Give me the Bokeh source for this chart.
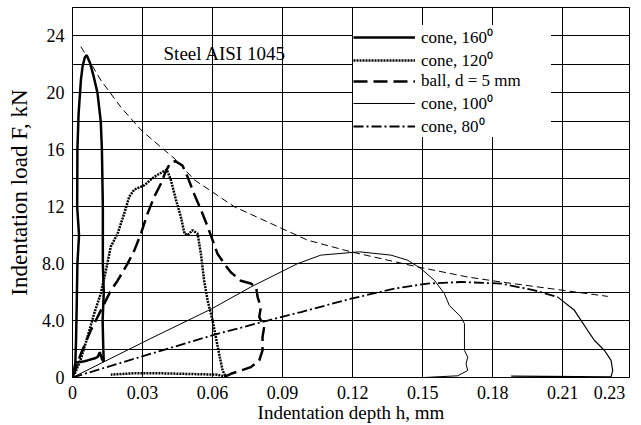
from bokeh.plotting import figure
from bokeh.models import (FixedTicker, NumeralTickFormatter, Legend, LegendItem,
                          Label, Range1d)
from bokeh.embed import file_html
from bokeh.resources import INLINE

# ---- data (indentation depth h in mm, load F in kN) ----
cone160_h = [0.0, 0.0012, 0.0015, 0.0018, 0.0021, 0.0028, 0.0020, 0.0021, 0.0026, 0.0036,
             0.0043, 0.0053, 0.0061, 0.0075, 0.0090, 0.0107, 0.0121, 0.0126, 0.0130, 0.0130,
             0.0134, 0.0129, 0.0132, 0.0134, 0.0126, 0.0117, 0.0108, 0.0096, 0.0064, 0.0040,
             0.0015]
cone160_F = [0.0, 1.0, 2.5, 5.0, 8.0, 10.0, 12.0, 16.0, 18.5, 20.9,
             21.85, 22.5, 22.65, 22.1, 21.2, 20.0, 18.0, 16.0, 12.0, 8.0,
             6.0, 4.0, 2.0, 1.1, 1.3, 1.78, 1.45, 1.35, 1.2, 1.1,
             1.05]

cone120_h = [0.0010, 0.0036, 0.0064, 0.0093, 0.0121, 0.0143, 0.0164, 0.0193, 0.0221, 0.0243,
             0.0264, 0.0307, 0.0350, 0.0386, 0.0404, 0.0421, 0.0443, 0.0464, 0.0480, 0.0493,
             0.0514, 0.0536, 0.0550, 0.0564, 0.0579, 0.0600, 0.0614, 0.0628, 0.0643, 0.0657,
             0.0620, 0.0493, 0.0364, 0.0264, 0.0164]
cone120_F = [0.26, 1.3, 2.84, 4.5, 5.9, 7.5, 9.2, 10.1, 11.5, 12.7,
             13.2, 13.5, 14.1, 14.45, 14.6, 13.9, 12.5, 11.3, 10.1, 10.0,
             10.35, 10.1, 8.7, 6.8, 5.4, 4.0, 2.84, 1.67, 0.49, 0.05,
             0.2, 0.25, 0.3, 0.3, 0.2]

ball_h = [0.0, 0.0036, 0.0078, 0.0121, 0.0150, 0.0164, 0.0193, 0.0236, 0.0264, 0.0293,
          0.0321, 0.0350, 0.0378, 0.0400, 0.0420, 0.0440, 0.0471, 0.0493, 0.0521, 0.0550,
          0.0579, 0.0600, 0.0621, 0.0650, 0.0678, 0.0721, 0.0764, 0.0786, 0.0793, 0.0807,
          0.0800, 0.0821, 0.0814, 0.0814, 0.0800, 0.0764, 0.0721, 0.0679, 0.0650]
ball_F = [0.0, 1.67, 3.3, 4.7, 5.65, 6.1, 6.8, 8.0, 8.9, 10.1,
          11.5, 12.7, 13.6, 14.5, 15.1, 15.2, 14.9, 14.1, 12.9, 11.8,
          10.6, 9.65, 8.7, 8.0, 7.4, 6.8, 6.6, 6.4, 5.65, 4.95,
          4.25, 3.54, 2.84, 1.9, 1.2, 0.73, 0.49, 0.26, 0.05]

cone100_h = [0.0, 0.0336, 0.0593, 0.0764, 0.0964, 0.1064, 0.1229, 0.1364, 0.1436, 0.1493,
             0.1550, 0.1593, 0.1614, 0.1664, 0.1679, 0.1679, 0.1679, 0.1693, 0.1686, 0.1693,
             0.1650, 0.1507]
cone100_F = [0.0, 2.75, 4.8, 6.36, 8.0, 8.6, 8.83, 8.6, 8.24, 7.65,
             6.83, 5.9, 5.07, 4.25, 3.78, 2.84, 1.9, 1.43, 0.96, 0.49,
             0.12, 0.0]

cone80_h = [0.0, 0.0336, 0.0621, 0.0836, 0.0979, 0.1193, 0.1379, 0.1521, 0.1664, 0.1836,
            0.1979, 0.2079, 0.2150, 0.2179, 0.2207, 0.2236, 0.2279, 0.2307, 0.2314, 0.2307,
            0.1879]
cone80_F = [0.0, 1.67, 3.07, 4.0, 4.6, 5.54, 6.24, 6.6, 6.71, 6.6,
            6.13, 5.65, 4.72, 4.0, 3.3, 2.6, 1.9, 1.2, 0.49, 0.05,
            0.1]

envelope_h = [0.0036, 0.0121, 0.0207, 0.0293, 0.0378, 0.0443, 0.0521, 0.0693, 0.0893, 0.1007,
              0.1193, 0.1479, 0.1693, 0.1836, 0.2050, 0.2293]
envelope_F = [23.25, 20.9, 19.0, 17.4, 16.2, 15.3, 13.9, 12.0, 10.5, 9.65,
              8.83, 7.77, 7.06, 6.71, 6.24, 5.7]

x_ticks = [0, 0.03, 0.06, 0.09, 0.12, 0.15, 0.18, 0.21, 0.23]
x_grid = [0.03, 0.06, 0.09, 0.12, 0.15, 0.18, 0.21]
y_ticks = [0, 4, 8, 12, 16, 20, 24]
y_labels = {0: "0", 4: "4.0", 8: "8.0", 12: "12", 16: "16", 20: "20", 24: "24"}
y_grid = [2, 4, 6, 8, 10, 12, 14, 16, 18, 20, 22, 24]

labels = ["cone, 160\u2070", "cone, 120\u2070", "ball, d = 5 mm",
          "cone, 100\u2070", "cone, 80\u2070"]
x_title = "Indentation depth h, mm"
y_title = "Indentation load F, kN"
note = "Steel AISI 1045"

FONT = "Liberation Serif"

p = figure(width=641, height=425, x_range=Range1d(0, 0.2386), y_range=Range1d(0, 26),
           output_backend="svg", toolbar_location=None,
           min_border_left=72, min_border_right=12, min_border_top=7, min_border_bottom=48)
p.background_fill_color = "white"
p.border_fill_color = "white"
p.outline_line_color = "black"
p.outline_line_width = 1

# grids
p.xgrid.ticker = FixedTicker(ticks=x_grid)
p.ygrid.ticker = FixedTicker(ticks=y_grid)
for g in (p.xgrid, p.ygrid):
    g.grid_line_color = "black"
    g.grid_line_width = 1

# axes
p.xaxis.ticker = FixedTicker(ticks=x_ticks)
p.xaxis.formatter = NumeralTickFormatter(format="0.[00]")
p.yaxis.ticker = FixedTicker(ticks=y_ticks)
p.yaxis.major_label_overrides = y_labels
p.xaxis.axis_label = x_title
p.yaxis.axis_label = y_title
for ax in (p.xaxis, p.yaxis):
    ax.axis_line_color = "black"
    ax.major_tick_out = 0
    ax.major_tick_in = 0
    ax.minor_tick_out = 0
    ax.minor_tick_in = 0
    ax.major_label_text_font = FONT
    ax.major_label_text_font_size = "18px"
    ax.major_label_text_color = "black"
    ax.axis_label_text_font = FONT
    ax.axis_label_text_font_style = "normal"
    ax.axis_label_text_color = "black"
p.xaxis.axis_label_text_font_size = "19px"
p.yaxis.axis_label_text_font_size = "23px"
p.xaxis.major_label_standoff = 8
p.xaxis.axis_label_standoff = 0
p.yaxis.major_label_standoff = 8
p.yaxis.axis_label_standoff = 7

# curves
r_env = p.line(envelope_h, envelope_F, line_color="black", line_width=1, line_dash="7 4")
r160 = p.line(cone160_h, cone160_F, line_color="black", line_width=2.5)
r120 = p.line(cone120_h, cone120_F, line_color="black", line_width=2.5, line_dash="2 1")
rball = p.line(ball_h, ball_F, line_color="black", line_width=2.5, line_dash="14 6")
r100 = p.line(cone100_h, cone100_F, line_color="black", line_width=1)
r80 = p.line(cone80_h[:12], cone80_F[:12], line_color="black", line_width=1.8,
             line_dash="10 3 2 3")
r80t = p.line(cone80_h[11:], cone80_F[11:], line_color="black", line_width=1.2)

legend = Legend(items=[LegendItem(label=labels[0], renderers=[r160]),
                       LegendItem(label=labels[1], renderers=[r120]),
                       LegendItem(label=labels[2], renderers=[rball]),
                       LegendItem(label=labels[3], renderers=[r100]),
                       LegendItem(label=labels[4], renderers=[r80])],
                location=(281, 240))
legend.label_text_font = FONT
legend.label_text_font_size = "17px"
legend.label_text_color = "black"
legend.glyph_width = 62
legend.glyph_height = 20
legend.label_height = 20
legend.label_width = 130
legend.label_standoff = 6
legend.spacing = 0
legend.padding = 4
legend.margin = 0
legend.border_line_color = None
legend.background_fill_color = "white"
legend.background_fill_alpha = 1.0
p.add_layout(legend)

p.add_layout(Label(x=0.039, y=22.8, text=note, text_font=FONT,
                   text_font_size="19px", text_color="black", text_baseline="middle"))

open("out.html", "w").write(file_html(p, INLINE))
